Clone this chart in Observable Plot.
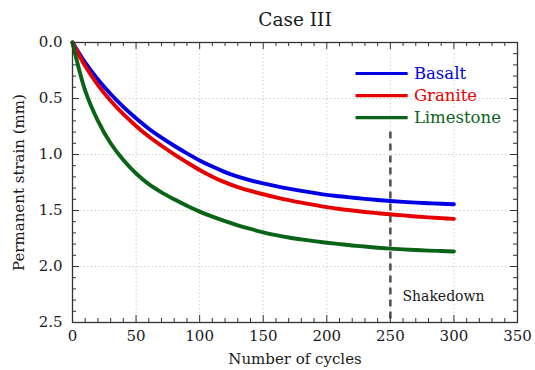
<!DOCTYPE html>
<html>
<head>
<meta charset="utf-8">
<script src="https://cdn.jsdelivr.net/npm/d3@7"></script>
<script src="https://cdn.jsdelivr.net/npm/@observablehq/plot@0.6"></script>
<style>
  html, body { margin: 0; padding: 0; background: #fff; }
  #chart svg, #chart svg text { font-family: "DejaVu Serif", "Liberation Serif", serif !important; }
</style>
</head>
<body>
<div id="chart"></div>
<script>
// ---- data ----
const cycles = [0,10,20,30,40,50,60,70,80,90,100,110,120,130,140,150,160,170,180,190,200,210,220,230,240,250,260,270,280,290,300];
const basalt = [0,0.18,0.33,0.46,0.575,0.677,0.77,0.85,0.922,0.99,1.053,1.108,1.157,1.198,1.231,1.258,1.283,1.305,1.325,1.343,1.36,1.373,1.385,1.396,1.406,1.415,1.423,1.43,1.435,1.44,1.444];
const granite = [0,0.21,0.38,0.52,0.64,0.745,0.84,0.922,0.998,1.07,1.138,1.198,1.249,1.291,1.325,1.355,1.383,1.408,1.43,1.45,1.47,1.487,1.50,1.513,1.524,1.534,1.544,1.553,1.561,1.568,1.575];
const limestone = [0,0.43,0.70,0.90,1.05,1.17,1.265,1.338,1.40,1.458,1.51,1.555,1.595,1.632,1.665,1.695,1.72,1.741,1.758,1.774,1.788,1.80,1.812,1.822,1.832,1.84,1.847,1.853,1.858,1.862,1.866];
const seriesNames = ["Basalt", "Granite", "Limestone"];
const seriesColors = ["#0000e6", "#e60000", "#0a6418"];
const xMajorTicks = [0,50,100,150,200,250,300,350];
const yMajorTicks = [0,0.5,1.0,1.5,2.0,2.5];
const shakedownCycle = 250;
const shakedownTop = 0.8;
const titleText = "Case III";
const xLabel = "Number of cycles";
const yLabel = "Permanent strain (mm)";
const shakedownLabel = "Shakedown";

// ---- derived tables ----
const values = [basalt, granite, limestone];
const rows = [];
seriesNames.forEach((name, i) => cycles.forEach((c, j) => rows.push({series: name, cycle: c, strain: values[i][j]})));

const xMinor = d3.range(0, 351, 10).filter(v => v % 50 !== 0);
const yMinor = d3.range(0, 26).map(v => v / 10).filter(v => Math.round(v * 10) % 5 !== 0);

// layout constants
const W = 535, H = 370, mL = 72, mR = 18, mT = 42, mB = 48;
const fw = W - mL - mR, fh = H - mT - mB;
const major = 7, minor = 4;
const tickColor = "#333";
const serif = "'DejaVu Serif', 'Liberation Serif', serif";

// legend layout (in data units of the plot)
const legX1 = 223, legX2 = 264, legTextX = 268.5;
const legRows = seriesNames.map((n, i) => ({name: n, color: seriesColors[i], y: 0.277 + i * 0.197}));

const chart = Plot.plot({
  width: W, height: H,
  marginLeft: mL, marginRight: mR, marginTop: mT, marginBottom: mB,
  style: {fontFamily: serif, fontSize: "15px", color: "#1a1a1a", background: "#fff"},
  x: {domain: [0, 350]},
  y: {domain: [0, 2.5], reverse: true},
  color: {domain: seriesNames, range: seriesColors},
  marks: [
    // grid
    Plot.ruleX(xMajorTicks.filter(v => v > 0 && v < 350), {stroke: "#c4c4c4", strokeWidth: 1, strokeDasharray: "1.2,2.6"}),
    Plot.ruleY(yMajorTicks.filter(v => v > 0 && v < 2.5), {stroke: "#c4c4c4", strokeWidth: 1, strokeDasharray: "1.2,2.6"}),
    // series
    Plot.line(rows, {x: "cycle", y: "strain", z: "series", stroke: "series", strokeWidth: 3.9, curve: "catmull-rom"}),
    // shakedown line
    Plot.ruleX([shakedownCycle], {y1: shakedownTop, y2: 2.5, stroke: "#555", strokeWidth: 2.6, strokeDasharray: "7,5"}),
    Plot.text([shakedownLabel], {x: shakedownCycle + 9.5, y: 2.27, text: d => d, textAnchor: "start", fontSize: 14, fill: "#1a1a1a", fontFamily: serif}),
    // legend
    Plot.ruleY(legRows, {y: "y", x1: legX1, x2: legX2, stroke: "color", strokeWidth: 3.2}),
    Plot.text(legRows, {y: "y", x: legTextX, text: "name", fill: "color", textAnchor: "start", fontSize: 16.5, fontFamily: serif}),
    // inward ticks: bottom/top
    Plot.ruleX(xMajorTicks, {stroke: tickColor, insetTop: fh - major}),
    Plot.ruleX(xMajorTicks, {stroke: tickColor, insetBottom: fh - major}),
    Plot.ruleX(xMinor, {stroke: tickColor, insetTop: fh - minor}),
    Plot.ruleX(xMinor, {stroke: tickColor, insetBottom: fh - minor}),
    // inward ticks: left/right
    Plot.ruleY(yMajorTicks, {stroke: tickColor, insetRight: fw - major}),
    Plot.ruleY(yMajorTicks, {stroke: tickColor, insetLeft: fw - major}),
    Plot.ruleY(yMinor, {stroke: tickColor, insetRight: fw - minor}),
    Plot.ruleY(yMinor, {stroke: tickColor, insetLeft: fw - minor}),
    Plot.frame({stroke: tickColor, strokeWidth: 1.3}),
    // axes
    Plot.axisX({ticks: xMajorTicks, tickSize: 0, tickPadding: 8, label: null, fontSize: 15, fontFamily: serif}),
    Plot.axisY({ticks: yMajorTicks, tickSize: 0, tickPadding: 10, tickFormat: d3.format(".1f"), label: null, fontSize: 15, fontFamily: serif}),
    // titles
    Plot.text([xLabel], {frameAnchor: "bottom", dy: 37, lineAnchor: "middle", text: d => d, fontSize: 15, fill: "#1a1a1a", fontFamily: serif}),
    Plot.text([yLabel], {frameAnchor: "left", dx: -53, rotate: -90, textAnchor: "middle", lineAnchor: "middle", text: d => d, fontSize: 15, fill: "#1a1a1a", fontFamily: serif}),
    Plot.text([titleText], {frameAnchor: "top", dy: -22, lineAnchor: "middle", text: d => d, fontSize: 18.5, fill: "#1a1a1a", fontFamily: serif})
  ]
});
document.getElementById("chart").appendChild(chart);
</script>
</body>
</html>
